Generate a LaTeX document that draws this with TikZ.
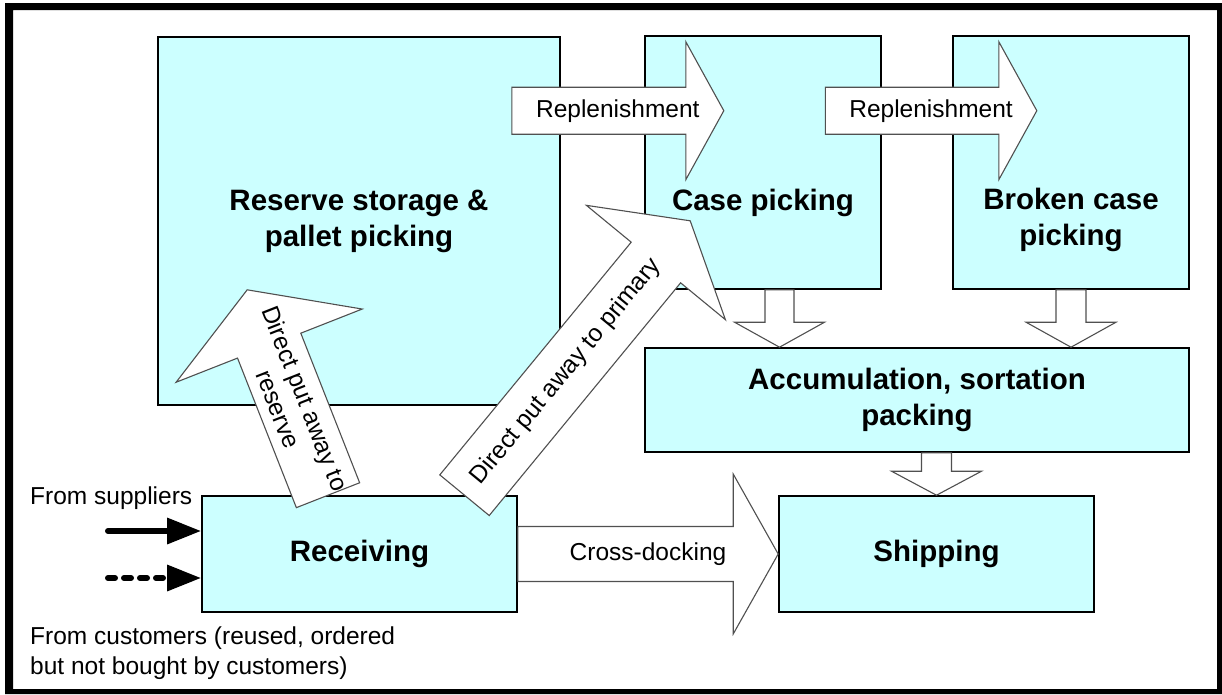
\documentclass[tikz,border=0pt]{standalone}
\usepackage{fontspec}
\setmainfont{Liberation Sans}
\usetikzlibrary{calc,arrows.meta}

\definecolor{boxfill}{RGB}{204,255,255}
\definecolor{arrowline}{RGB}{80,80,80}

\newcommand\boxfont{\fontsize{29.5}{36}\selectfont\bfseries}
\newcommand\flowfont{\fontsize{24.5}{29}\selectfont}

% Wide hollow block arrow from #1 (tail centre) to #2 (tip):
% #3 shaft half-width, #4 head half-width, #5 head length
\newcommand\fatarrow[5]{%
  \coordinate (fa-b) at ($(#2)!#5!(#1)$);
  \draw[fatarrow]
    ($(#1)!#3!90:(#2)$) -- ($(fa-b)!#3!-90:(#1)$) -- ($(fa-b)!#4!-90:(#1)$)
    -- (#2)
    -- ($(fa-b)!#4!90:(#1)$) -- ($(fa-b)!#3!90:(#1)$) -- ($(#1)!#3!-90:(#2)$) -- cycle;}

\begin{document}
\begin{tikzpicture}[x=1pt,y=-1pt,
  box/.style={draw=black, line width=1.6pt, fill=boxfill, inner sep=0pt,
              align=center, font=\boxfont},
  boxtitle/.style={inner sep=0pt, align=center, font=\boxfont},
  fatarrow/.style={draw=arrowline, line width=1.1pt, fill=white, line join=miter},
  flowlabel/.style={inner sep=0pt, align=center, font=\flowfont},
  feed/.style={line width=6pt, line cap=round, -{Triangle[length=34pt,width=25pt]}}]

\useasboundingbox (0,0) rectangle (1222,694);

% outer frame
\fill[black, even odd rule] (5,3) rectangle (1222,694) (13,10) rectangle (1217,689);

% areas of the warehouse
\node[box, minimum width=402pt, minimum height=368pt] (reserve) at (359,221)
  {Reserve storage \&\\pallet picking};
\node[box, minimum width=236pt, minimum height=253pt] (case) at (763,162.5) {};
\node[box, minimum width=236pt, minimum height=253pt] (broken) at (1071,162.5) {};
\node[box, minimum width=544pt, minimum height=104pt] (accum) at (917,400)
  {Accumulation, sortation\\packing};
\node[box, minimum width=315pt, minimum height=116pt] (ship) at (936.5,554) {Shipping};
\node[box, minimum width=315pt, minimum height=116pt] (recv) at (359.5,554) {Receiving};

% replenishment flows
\coordinate (r1s) at ($(reserve.north east)+(-49,74.5)$);
\coordinate (r1e) at ($(r1s)+(212,0)$);
\fatarrow{r1s}{r1e}{23.5pt}{69pt}{38pt}
\path (r1s) -- node[flowlabel] (r1-t) {Replenishment} (r1e);

\coordinate (r2s) at ($(case.north east)+(-56.5,75.5)$);
\coordinate (r2e) at ($(r2s)+(211.5,0)$);
\fatarrow{r2s}{r2e}{23.5pt}{69pt}{38pt}
\path (r2s) -- node[flowlabel] (r2-t) {Replenishment} (r2e);

% picking areas feed accumulation, accumulation feeds shipping
\coordinate (cds) at ($(case.south)+(16.5,0)$);
\coordinate (cde) at (cds |- accum.north);
\fatarrow{cds}{cde}{14.5pt}{45pt}{25pt}

\coordinate (bds) at (broken.south);
\coordinate (bde) at (broken.south |- accum.north);
\fatarrow{bds}{bde}{15pt}{45pt}{25pt}

\coordinate (ads) at (ship.north |- accum.south);
\fatarrow{ads}{ship.north}{15pt}{45pt}{24pt}

% cross-docking
\fatarrow{recv.east}{ship.west}{27.5pt}{80pt}{45pt}
\path (recv.east) -- node[flowlabel] (cross-t) {Cross-docking} (ship.west);

% direct put away to reserve
\coordinate (rs) at ($(recv.north)+(-31.5,0)$);
\coordinate (re) at ($(reserve.south west)+(90,-116)$);
\fatarrow{rs}{re}{34pt}{100pt}{60pt}
\path (rs) -- node[flowlabel, sloped, pos=0.445] (rs-t) {Direct put away to\\reserve} (re);

% direct put away to primary
\coordinate (ps) at ($(recv.north)+(105,0)$);
\coordinate (pe) at ($(case.south west)+(46,-69)$);
\fatarrow{ps}{pe}{32pt}{90pt}{54pt}
\path (ps) -- node[flowlabel, sloped, pos=0.45] (ps-t) {Direct put away to primary} (pe);

% titles of the picking areas
\node[boxtitle] (case-t) at (763,203) {Case picking};
\node[boxtitle] (broken-t) at (1071,220) {Broken case\\picking};

% inbound flows
\coordinate (sup) at (108,531);
\coordinate (cust) at (108,578);
\draw[feed] (sup) -- (sup -| recv.west);
\draw[feed, dash pattern=on 7pt off 9pt] (cust) -- (cust -| recv.west);

\node[flowlabel, anchor=base west] (sup-t) at (30,504) {From suppliers};
\node[flowlabel, anchor=north west, align=left, font=\fontsize{24.5}{30}\selectfont]
  (cust-t) at (30,627) {From customers (reused, ordered\\but not bought by customers)};

\end{tikzpicture}
\end{document}
